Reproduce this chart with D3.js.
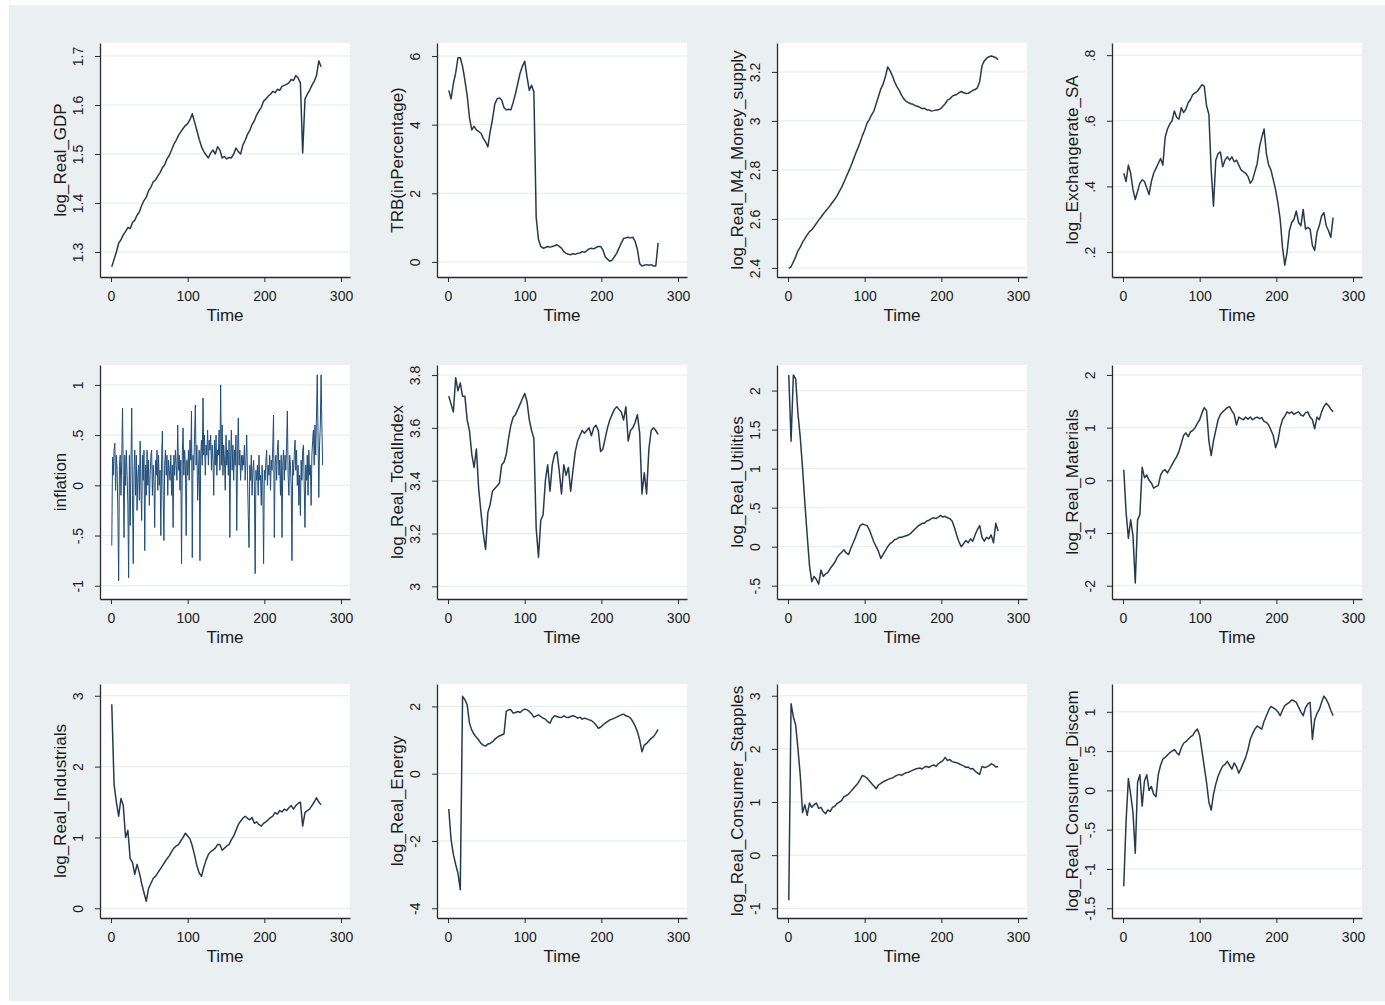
<!DOCTYPE html>
<html>
<head>
<meta charset="utf-8">
<script src="https://cdn.jsdelivr.net/npm/d3@7"></script>
<style>
  body { margin: 0; background: #fff; }
  text { font-family: "Liberation Sans", Arial, Helvetica, sans-serif; fill: #1a1a1a; }
  .tick text { font-size: 14px; }
  .ytitle, .xtitle { font-size: 17px; }
</style>
</head>
<body>
<svg id="chart" width="1385" height="1005"></svg>
<script>
// series sampled every 3 months from Time = 1 (inflation is monthly)
var xTicks = [0, 100, 200, 300];

var gdp = [1.270,1.285,1.300,1.318,1.325,1.335,1.342,1.350,1.348,1.360,
  1.365,1.375,1.382,1.395,1.405,1.412,1.425,1.432,1.443,1.447,
  1.455,1.462,1.472,1.478,1.490,1.497,1.508,1.520,1.528,1.538,
  1.545,1.552,1.558,1.562,1.570,1.582,1.565,1.548,1.530,1.515,
  1.505,1.498,1.492,1.502,1.508,1.500,1.515,1.508,1.492,1.495,
  1.490,1.493,1.492,1.500,1.512,1.505,1.500,1.518,1.528,1.540,
  1.548,1.560,1.568,1.580,1.588,1.595,1.608,1.612,1.618,1.622,
  1.628,1.625,1.632,1.630,1.638,1.640,1.642,1.645,1.652,1.650,
  1.660,1.655,1.645,1.502,1.612,1.622,1.630,1.640,1.648,1.660,
  1.690,1.678];

var trb = [5.0,4.75,5.2,5.5,5.95,5.95,5.7,5.3,4.85,4.2,
  3.85,3.95,3.85,3.8,3.75,3.6,3.5,3.35,3.8,4.15,
  4.6,4.75,4.78,4.72,4.5,4.43,4.45,4.43,4.65,4.9,
  5.2,5.5,5.7,5.85,5.4,5.0,5.15,4.95,1.3,0.65,
  0.45,0.4,0.42,0.45,0.43,0.45,0.47,0.5,0.45,0.4,
  0.3,0.25,0.22,0.21,0.24,0.22,0.25,0.26,0.3,0.28,
  0.33,0.38,0.4,0.38,0.42,0.45,0.45,0.35,0.15,0.08,
  0.02,0.05,0.15,0.25,0.4,0.55,0.68,0.7,0.72,0.7,
  0.72,0.6,0.36,-0.05,-0.12,-0.1,-0.08,-0.1,-0.08,-0.12,
  -0.12,0.55];

var m4 = [2.398,2.405,2.425,2.445,2.47,2.485,2.505,2.52,2.535,2.548,
  2.556,2.568,2.582,2.595,2.607,2.62,2.632,2.643,2.655,2.668,
  2.68,2.695,2.712,2.73,2.75,2.772,2.793,2.815,2.84,2.865,
  2.888,2.912,2.94,2.962,2.99,3.005,3.025,3.04,3.07,3.1,
  3.13,3.15,3.18,3.22,3.205,3.185,3.16,3.14,3.125,3.105,
  3.09,3.08,3.075,3.07,3.068,3.062,3.06,3.055,3.05,3.052,
  3.045,3.045,3.04,3.042,3.045,3.045,3.05,3.06,3.07,3.085,
  3.09,3.1,3.105,3.108,3.115,3.12,3.115,3.112,3.113,3.118,
  3.125,3.128,3.135,3.16,3.225,3.245,3.255,3.262,3.265,3.262,
  3.258,3.25];

var exch = [0.44,0.415,0.465,0.44,0.39,0.36,0.385,0.41,0.42,0.415,
  0.395,0.375,0.415,0.44,0.455,0.47,0.485,0.465,0.55,0.575,
  0.59,0.6,0.63,0.61,0.605,0.64,0.625,0.635,0.655,0.665,
  0.68,0.685,0.69,0.7,0.71,0.705,0.645,0.62,0.45,0.34,
  0.48,0.5,0.505,0.46,0.48,0.49,0.48,0.49,0.475,0.48,
  0.465,0.45,0.445,0.44,0.43,0.41,0.42,0.445,0.47,0.52,
  0.55,0.575,0.5,0.465,0.45,0.42,0.39,0.35,0.3,0.215,
  0.16,0.2,0.265,0.29,0.3,0.325,0.29,0.28,0.33,0.27,
  0.275,0.27,0.22,0.205,0.26,0.28,0.31,0.32,0.28,0.265,
  0.245,0.305];

var inflation = [-0.6,0.28,0.1,0.35,0.42,-0.05,0.3,0.15,-0.3,-0.95,
  0.2,0.3,-0.1,0.25,0.77,0.1,-0.52,0.3,0.0,0.35,
  0.1,-0.2,-0.92,0.3,-0.4,0.2,0.77,-0.1,-0.78,0.15,
  0.35,-0.1,0.3,-0.25,0.1,0.2,-0.15,0.44,0.0,-0.35,
  0.3,0.05,0.35,-0.65,0.2,-0.1,0.35,0.0,0.25,-0.2,
  0.1,0.3,0.35,-0.1,0.2,0.05,-0.42,0.25,0.1,0.35,
  -0.05,0.3,0.0,0.15,-0.5,0.25,0.54,-0.1,-0.55,0.2,
  0.35,0.1,0.3,-0.1,0.25,0.15,0.05,0.3,-0.1,0.2,
  -0.42,0.3,0.1,0.35,0.2,0.05,0.6,0.15,0.3,-0.05,
  0.25,-0.78,0.3,0.57,0.1,0.35,0.2,-0.5,0.25,0.1,
  0.35,0.05,0.45,0.25,0.74,-0.72,0.3,0.15,0.5,0.8,
  0.2,0.4,-0.15,0.1,0.35,-0.75,0.3,0.45,0.2,0.87,
  0.3,0.5,0.1,0.4,0.3,0.55,0.2,0.45,0.35,0.5,
  0.15,0.4,0.25,-0.1,0.45,0.2,0.5,0.1,0.35,0.3,
  0.55,0.15,1.0,0.2,0.6,0.1,0.4,0.25,-0.05,0.5,
  0.2,0.35,0.1,0.45,-0.52,0.3,0.55,0.15,0.4,0.05,
  0.35,0.2,0.5,-0.45,0.3,0.67,0.2,0.35,0.05,0.3,
  0.15,0.3,0.2,0.4,0.05,0.25,0.5,0.1,-0.3,-0.62,
  0.2,0.05,0.3,-0.1,0.15,0.25,0.0,-0.88,0.15,0.05,
  0.2,-0.1,0.3,0.05,0.1,-0.2,0.2,0.0,-0.78,0.15,
  0.05,0.25,0.35,0.0,0.2,0.1,0.3,-0.05,0.25,0.15,
  0.4,0.7,-0.52,0.2,0.3,0.05,0.35,0.45,0.1,0.25,
  -0.1,0.3,-0.52,0.2,0.35,0.05,0.3,0.15,0.4,0.74,
  0.1,-0.1,0.3,0.2,0.0,-0.75,0.25,0.1,0.3,0.45,
  0.15,0.35,0.0,0.2,-0.2,0.1,-0.3,0.25,0.05,0.35,
  0.4,0.0,-0.42,0.2,0.05,0.3,-0.1,0.35,0.1,0.2,
  -0.2,0.3,0.45,0.55,0.2,0.6,0.3,0.7,1.1,0.5,
  -0.12,0.4,0.6,1.1,0.6,0.2];

var totalIndex = [3.72,3.69,3.66,3.79,3.74,3.77,3.72,3.72,3.63,3.59,
  3.5,3.45,3.52,3.37,3.28,3.2,3.14,3.28,3.31,3.36,
  3.37,3.38,3.39,3.46,3.47,3.5,3.56,3.61,3.64,3.65,
  3.67,3.69,3.71,3.73,3.7,3.63,3.59,3.56,3.22,3.11,
  3.25,3.27,3.4,3.46,3.36,3.46,3.5,3.51,3.44,3.35,
  3.46,3.42,3.45,3.36,3.44,3.51,3.55,3.57,3.59,3.58,
  3.59,3.6,3.57,3.6,3.61,3.59,3.51,3.52,3.56,3.6,
  3.63,3.65,3.67,3.68,3.67,3.66,3.63,3.68,3.55,3.59,
  3.6,3.62,3.65,3.58,3.35,3.43,3.35,3.52,3.59,3.6,
  3.59,3.575];

var utilities = [2.2,1.35,2.2,2.15,1.7,1.4,1.0,0.56,0.15,-0.24,
  -0.45,-0.38,-0.42,-0.48,-0.3,-0.38,-0.35,-0.33,-0.28,-0.24,
  -0.2,-0.14,-0.1,-0.07,-0.04,-0.08,-0.1,-0.02,0.05,0.12,
  0.2,0.27,0.29,0.28,0.27,0.22,0.14,0.06,0.0,-0.06,
  -0.15,-0.1,-0.05,0.0,0.04,0.06,0.09,0.1,0.12,0.12,
  0.13,0.14,0.15,0.17,0.2,0.23,0.26,0.28,0.3,0.3,
  0.33,0.34,0.36,0.37,0.36,0.38,0.4,0.38,0.39,0.37,
  0.36,0.33,0.25,0.15,0.06,0.0,0.04,0.08,0.05,0.1,
  0.07,0.15,0.22,0.27,0.12,0.07,0.12,0.1,0.15,0.05,
  0.3,0.2];

var materials = [0.2,-0.6,-1.1,-0.75,-1.05,-1.95,-0.75,-0.65,0.25,0.05,
  0.1,0.0,-0.05,-0.15,-0.12,-0.1,0.1,0.18,0.2,0.14,
  0.22,0.3,0.38,0.45,0.55,0.7,0.85,0.9,0.83,0.92,
  0.95,1.0,1.08,1.15,1.28,1.38,1.32,0.75,0.47,0.75,
  0.95,1.15,1.25,1.3,1.34,1.38,1.4,1.32,1.25,1.05,
  1.2,1.17,1.15,1.2,1.16,1.2,1.15,1.18,1.2,1.17,
  1.19,1.12,1.1,1.05,0.95,0.85,0.62,0.75,1.0,1.15,
  1.22,1.3,1.27,1.3,1.25,1.28,1.3,1.24,1.22,1.28,
  1.3,1.2,1.15,0.98,1.2,1.15,1.3,1.4,1.46,1.42,
  1.35,1.3];

var industrials = [2.88,1.75,1.5,1.3,1.55,1.45,1.0,1.1,0.7,0.65,
  0.48,0.62,0.5,0.35,0.22,0.1,0.28,0.35,0.42,0.45,
  0.5,0.55,0.6,0.65,0.7,0.74,0.8,0.85,0.88,0.9,
  0.95,1.0,1.06,1.02,0.98,0.88,0.75,0.6,0.5,0.45,
  0.58,0.68,0.76,0.8,0.82,0.85,0.9,0.9,0.82,0.85,
  0.88,0.9,0.97,1.02,1.1,1.18,1.23,1.27,1.3,1.27,
  1.25,1.28,1.2,1.22,1.18,1.16,1.2,1.22,1.25,1.28,
  1.3,1.35,1.33,1.38,1.36,1.4,1.38,1.42,1.45,1.4,
  1.45,1.48,1.5,1.16,1.35,1.38,1.4,1.45,1.5,1.56,
  1.5,1.46];

var energy = [-1.05,-1.96,-2.4,-2.7,-2.96,-3.45,2.3,2.2,2.05,1.5,
  1.3,1.17,1.08,1.0,0.9,0.85,0.82,0.88,0.9,0.95,
  1.02,1.08,1.12,1.15,1.18,1.85,1.9,1.9,1.8,1.82,
  1.85,1.82,1.88,1.92,1.9,1.85,1.78,1.68,1.72,1.75,
  1.7,1.65,1.62,1.55,1.5,1.65,1.72,1.7,1.68,1.67,
  1.72,1.68,1.67,1.7,1.72,1.7,1.65,1.68,1.62,1.65,
  1.63,1.6,1.58,1.52,1.45,1.35,1.38,1.45,1.5,1.55,
  1.6,1.62,1.65,1.68,1.72,1.75,1.77,1.72,1.7,1.65,
  1.55,1.42,1.25,1.0,0.65,0.85,0.9,0.98,1.05,1.1,
  1.2,1.32];

var staples = [-0.85,2.85,2.6,2.45,2.0,1.5,0.8,0.95,0.75,0.98,
  0.9,0.95,0.98,0.88,0.9,0.82,0.78,0.85,0.82,0.9,
  0.92,0.97,1.0,1.03,1.1,1.12,1.15,1.2,1.25,1.3,
  1.35,1.42,1.5,1.48,1.45,1.4,1.35,1.3,1.25,1.32,
  1.35,1.38,1.4,1.42,1.44,1.45,1.48,1.5,1.52,1.5,
  1.53,1.55,1.56,1.58,1.6,1.62,1.63,1.64,1.62,1.66,
  1.67,1.65,1.68,1.7,1.67,1.72,1.75,1.78,1.84,1.78,
  1.8,1.76,1.75,1.74,1.72,1.7,1.68,1.65,1.66,1.62,
  1.63,1.58,1.55,1.52,1.67,1.65,1.66,1.68,1.72,1.7,
  1.66,1.67];

var discretionary = [-1.22,-0.4,0.15,-0.05,-0.28,-0.8,0.1,0.2,-0.2,0.12,
  0.2,0.0,0.05,-0.05,-0.08,0.2,0.32,0.4,0.42,0.45,
  0.48,0.5,0.52,0.48,0.45,0.54,0.6,0.62,0.65,0.68,
  0.7,0.75,0.78,0.7,0.5,0.3,0.1,-0.15,-0.25,-0.05,
  0.08,0.18,0.25,0.31,0.33,0.37,0.32,0.27,0.35,0.3,
  0.22,0.28,0.35,0.42,0.52,0.65,0.72,0.78,0.82,0.8,
  0.78,0.88,0.95,1.02,1.07,1.05,1.03,1.0,0.95,1.02,
  1.08,1.1,1.12,1.15,1.14,1.12,1.06,1.0,0.95,1.05,
  1.1,1.12,0.65,0.9,0.98,1.03,1.12,1.2,1.16,1.1,
  1.02,0.95];

var panels = [
  { title: "log_Real_GDP", values: gdp, step: 3, domain: [1.249, 1.7265],
    ticks: [1.3, 1.4, 1.5, 1.6, 1.7], labels: ["1.3", "1.4", "1.5", "1.6", "1.7"] },
  { title: "TRB(inPercentage)", values: trb, step: 3, domain: [-0.44, 6.38],
    ticks: [0, 2, 4, 6], labels: ["0", "2", "4", "6"] },
  { title: "log_Real_M4_Money_supply", values: m4, step: 3, domain: [2.363, 3.318],
    ticks: [2.4, 2.6, 2.8, 3, 3.2], labels: ["2.4", "2.6", "2.8", "3", "3.2"] },
  { title: "log_Exchangerate_SA", values: exch, step: 3, domain: [0.124, 0.837],
    ticks: [0.2, 0.4, 0.6, 0.8], labels: [".2", ".4", ".6", ".8"] },
  { title: "inflation", values: inflation, step: 1, domain: [-1.132, 1.198],
    ticks: [-1, -0.5, 0, 0.5, 1], labels: ["-1", "-.5", "0", ".5", "1"] },
  { title: "log_Real_TotalIndex", values: totalIndex, step: 3, domain: [2.952, 3.838],
    ticks: [3, 3.2, 3.4, 3.6, 3.8], labels: ["3", "3.2", "3.4", "3.6", "3.8"] },
  { title: "log_Real_Utilities", values: utilities, step: 3, domain: [-0.67, 2.328],
    ticks: [-0.5, 0, 0.5, 1, 1.5, 2], labels: ["-.5", "0", ".5", "1", "1.5", "2"] },
  { title: "log_Real_Materials", values: materials, step: 3, domain: [-2.252, 2.189],
    ticks: [-2, -1, 0, 1, 2], labels: ["-2", "-1", "0", "1", "2"] },
  { title: "log_Real_Industrials", values: industrials, step: 3, domain: [-0.137, 3.166],
    ticks: [0, 1, 2, 3], labels: ["0", "1", "2", "3"] },
  { title: "log_Real_Energy", values: energy, step: 3, domain: [-4.29, 2.666],
    ticks: [-4, -2, 0, 2], labels: ["-4", "-2", "0", "2"] },
  { title: "log_Real_Consumer_Stapples", values: staples, step: 3, domain: [-1.183, 3.221],
    ticks: [-1, 0, 1, 2, 3], labels: ["-1", "0", "1", "2", "3"] },
  { title: "log_Real_Consumer_Discem", values: discretionary, step: 3, domain: [-1.624, 1.354],
    ticks: [-1.5, -1, -0.5, 0, 0.5, 1], labels: ["-1.5", "-1", "-.5", "0", ".5", "1"] }
];

var svg = d3.select("#chart");

// graph region background
svg.append("rect")
  .attr("x", 9).attr("y", 5)
  .attr("width", 1376).attr("height", 996)
  .attr("fill", "#eaf0f2");

var colX = [100, 437, 777, 1112],
  rowY = [43, 365, 684],
  pw = 250,
  ph = 234;

var x = d3.scaleLinear().domain([-14.35, 311.7]).range([0, pw]);

panels.forEach(function (p, k) {
  var g = svg.append("g")
    .attr("transform", "translate(" + colX[k % 4] + "," + rowY[Math.floor(k / 4)] + ")");

  var y = d3.scaleLinear().domain(p.domain).range([ph, 0]);

  g.append("rect")
    .attr("width", pw).attr("height", ph)
    .attr("fill", "#ffffff");

  g.selectAll(".grid")
    .data(p.ticks)
    .enter()
    .append("line")
    .attr("class", "grid")
    .attr("x1", 0).attr("x2", pw)
    .attr("y1", function (d) { return y(d); })
    .attr("y2", function (d) { return y(d); })
    .attr("stroke", "#e2eaee")
    .attr("stroke-width", 1);

  var line = d3.line()
    .x(function (d, i) { return x(1 + i * p.step); })
    .y(function (d) { return y(d); });

  // monthly inflation is drawn thinner, so the dense band reads lighter
  g.append("path")
    .datum(p.values)
    .attr("d", line)
    .attr("fill", "none")
    .attr("stroke", p.step == 1 ? "#1f4d7a" : "#263a4f")
    .attr("stroke-width", p.step == 1 ? 1 : 1.5)
    .attr("stroke-linejoin", "round");

  // x axis
  var xAxis = g.append("g")
    .attr("transform", "translate(0," + ph + ")")
    .attr("color", "#2a2a2a")
    .call(d3.axisBottom(x).tickValues(xTicks).tickSize(5).tickPadding(9).tickSizeOuter(0));
  xAxis.selectAll(".domain").attr("stroke-width", 1.3);

  g.append("text")
    .attr("class", "xtitle")
    .attr("x", pw / 2)
    .attr("y", ph + 44)
    .attr("text-anchor", "middle")
    .text("Time");

  // y axis, labels turned vertical
  var yAxis = g.append("g")
    .attr("color", "#2a2a2a")
    .call(d3.axisLeft(y)
      .tickValues(p.ticks)
      .tickFormat(function (d, i) { return p.labels[i]; })
      .tickSize(5)
      .tickSizeOuter(0));
  yAxis.selectAll(".domain").attr("stroke-width", 1.3);
  yAxis.selectAll(".tick text")
    .attr("x", null)
    .attr("dy", "0.35em")
    .attr("text-anchor", "middle")
    .attr("transform", "translate(-22,0) rotate(-90)");

  g.append("text")
    .attr("class", "ytitle")
    .attr("transform", "translate(-40," + ph / 2 + ") rotate(-90)")
    .attr("dy", "0.35em")
    .attr("text-anchor", "middle")
    .text(p.title);
});
</script>
</body>
</html>
